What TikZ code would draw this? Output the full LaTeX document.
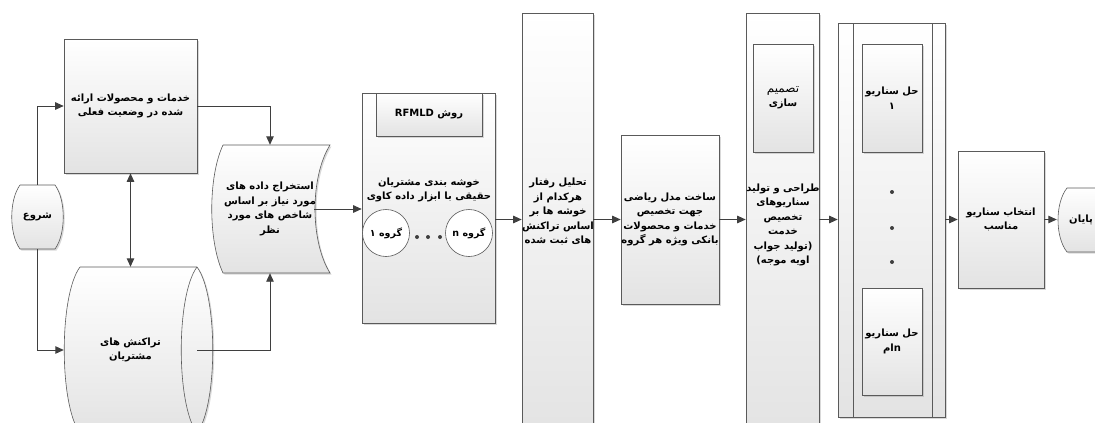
\documentclass[tikz,border=0pt]{standalone}
\usepackage{fontspec}
\newfontfamily\fa[Script=Arabic]{DejaVu Sans}
\TeXXeTstate=1
\usetikzlibrary{arrows.meta,shadows}
\newcommand{\rl}[1]{\beginR #1\endR}
\definecolor{linegray}{HTML}{5A5A5A}
\definecolor{arrowgray}{HTML}{3F3F3F}

\begin{document}
\begin{tikzpicture}[x=1pt,y=-1pt]
\tikzset{
  fafont/.style={font=\fa\bfseries\fontsize{10}{14.5}\selectfont},
  fill grad/.style={top color=white, bottom color=gray!22},
  ombre/.style={drop shadow={shadow xshift=1.5pt, shadow yshift=-1.5pt, opacity=.3, fill=gray}},
  boite/.style={draw=linegray, line width=0.6pt, fill grad, ombre, inner sep=0pt, fafont, align=center},
  texte/.style={inner sep=0pt, fafont, align=center},
  groupe/.style={draw=linegray, line width=0.6pt, circle, fill=white, minimum size=47pt, inner sep=0pt,
    font=\fa\bfseries\fontsize{9.5}{12}\selectfont},
  flow/.style={draw=arrowgray, line width=0.9pt, -{Triangle[length=8.5pt,width=7.5pt]}},
  twoway/.style={draw=arrowgray, line width=0.9pt, {Triangle[length=8.5pt,width=7.5pt]}-{Triangle[length=8.5pt,width=7.5pt]}}
}
\useasboundingbox (0,0) rectangle (1095,423);
\clip (0,0) rectangle (1095,423);

% shapes drawn by hand
\draw[draw=linegray, line width=0.6pt, fill grad, ombre]
  (20,185) -- (55,185) .. controls (66,200) and (66,234) .. (55,249)
  -- (20,249) .. controls (9,234) and (9,200) .. (20,185);
\draw[draw=linegray, line width=0.6pt, fill grad, ombre]
  (80,267) -- (197,267) .. controls (218,295) and (218,405) .. (197,433)
  -- (80,433) .. controls (59,405) and (59,295) .. (80,267);
\draw[draw=linegray, line width=0.6pt] (197,267) .. controls (176,295) and (176,405) .. (197,433);
\draw[draw=linegray, line width=0.6pt, fill grad, ombre]
  (223,145) -- (330,145) .. controls (310,177) and (310,241) .. (330,273)
  -- (223,273) .. controls (208,241) and (208,177) .. (223,145);
\draw[draw=linegray, line width=0.6pt, fill grad, ombre]
  (1110,188) -- (1067,188) .. controls (1055,203) and (1055,237) .. (1067,252) -- (1110,252);

% nodes
\node[texte, minimum width=51pt, minimum height=64pt] (start) at (37.5,217) {\rl{شروع}};
\node[boite, minimum width=133pt, minimum height=134pt] (services) at (130.5,106)
  {\rl{خدمات و محصولات ارائه}\\\rl{شده در وضعیت فعلی}};
\node[texte, minimum width=133pt, minimum height=166pt] (trans) at (130.5,350)
  {\rl{تراکنش های}\\\rl{مشتریان}};
\node[texte, minimum width=118pt, minimum height=128pt] (extract) at (270,209)
  {\rl{استخراج داده های}\\\rl{مورد نیاز بر اساس}\\\rl{شاخص های مورد}\\\rl{نظر}};

\node[boite, minimum width=133pt, minimum height=230pt] (cluster) at (428.5,208) {};
\node[boite, minimum width=106pt, minimum height=43pt] (method) at (429,114.5)
  {\rl{روش \beginL RFMLD\endL}};
\node[texte] (clustertxt) at (429,190)
  {\rl{خوشه بندی مشتریان}\\\rl{حقیقی با ابزار داده کاوی}};
\node[groupe] (grp1) at (386,233) {\rl{گروه ۱}};
\node[groupe] (grpn) at (469,233) {\rl{گروه n}};
\foreach \dx in {417,428,440}
  \fill[arrowgray] (\dx,237) circle (2);

\node[boite, minimum width=71pt, minimum height=427pt] (behav) at (557.5,226.5) {};
\node[texte] (behavtxt) at (558,212)
  {\rl{تحلیل رفتار}\\\rl{هرکدام از}\\\rl{خوشه ها بر}\\\rl{اساس تراکنش}\\\rl{های ثبت شده}};

\node[boite, minimum width=98pt, minimum height=169pt] (model) at (670,219.5)
  {\rl{ساخت مدل ریاضی}\\\rl{جهت تخصیص}\\\rl{خدمات و محصولات}\\\rl{بانکی ویژه هر گروه}};

\node[boite, minimum width=73pt, minimum height=427pt] (design) at (782.5,226.5) {};
\node[boite, minimum width=60pt, minimum height=108pt] (decide) at (783,98)
  {{\fa\mdseries\fontsize{12}{14.5}\selectfont\rl{تصمیم}}\\\rl{سازی}};
\node[texte] (designtxt) at (783,225)
  {\rl{طراحی و تولید}\\\rl{سناریوهای}\\\rl{تخصیص}\\\rl{خدمت}\\\rl{تولید جواب}(\\)\rl{اویه موجه}};

\node[boite, minimum width=107pt, minimum height=394pt] (solve) at (891.5,220) {};
\draw[draw=linegray, line width=0.6pt] (853,23) -- (853,417);
\draw[draw=linegray, line width=0.6pt] (932,23) -- (932,417);
\node[boite, minimum width=60pt, minimum height=108pt] (sol1) at (892,98)
  {\rl{حل سناریو}\\\rl{۱}};
\node[boite, minimum width=60pt, minimum height=107pt] (soln) at (892,341.5)
  {\rl{حل سناریو}\\\rl{ام}n};
\foreach \dy in {192,228,262}
  \fill[arrowgray] (892,\dy) circle (2);

\node[boite, minimum width=86pt, minimum height=137pt] (select) at (1001,219.5)
  {\rl{انتخاب سناریو}\\\rl{مناسب}};
\node[texte, minimum width=48pt, minimum height=64pt] (finish) at (1081,220) {\rl{پایان}};

% connectors
\draw[flow] (start.north) |- (services.west);
\draw[flow] (start.south) |- (trans.west);
\draw[twoway] (services.south) -- (trans.north);
\draw[flow] (services.east) -| (extract.north);
\draw[flow] (trans.east) -| (extract.south);
\draw[flow] ([xshift=-15pt]extract.east) -- (cluster.west |- extract.east);
\draw[flow] (cluster.east |- model) -- (behav.west |- model);
\draw[flow] (behav.east |- model) -- (model.west);
\draw[flow] (model.east) -- (design.west |- model);
\draw[flow] (design.east |- model) -- (solve.west |- model);
\draw[flow] (solve.east |- select) -- (select.west);
\draw[flow] (select.east) -- (finish.west |- select);
\end{tikzpicture}
\end{document}
